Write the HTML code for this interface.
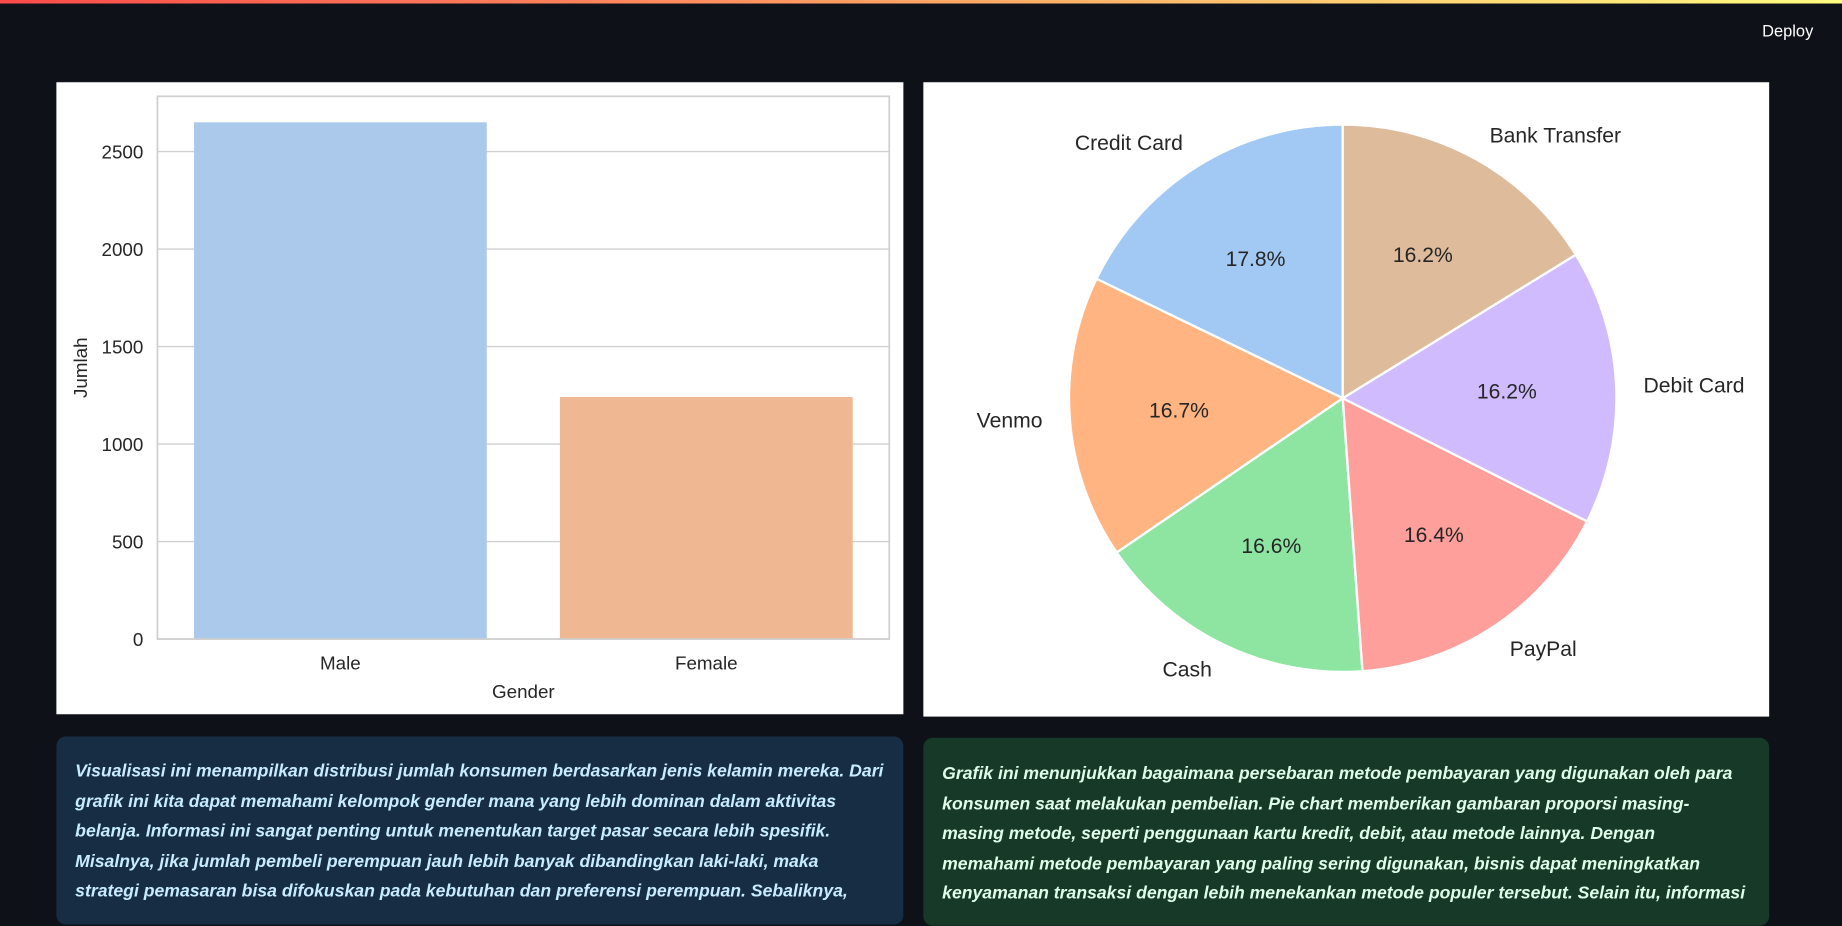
<!DOCTYPE html>
<html><head><meta charset="utf-8">
<style>
html,body{margin:0;padding:0;background:#0e1117;overflow:hidden;width:1842px;height:912px}
#wrap{position:absolute;left:0;top:0;width:1568px;height:776px;transform:scale(1.17474);transform-origin:0 0;font-family:"Liberation Sans",sans-serif}
.bar{position:absolute;left:0;top:0;width:1568px;height:3px;background:linear-gradient(90deg,#ff4b4b,#fffd80)}
.deploy{position:absolute;left:1500px;top:18px;color:#fff;font-size:14px}
.panel{position:absolute;background:#fff}
.box{position:absolute;border-radius:8px;padding:17px 16px 0 16px;box-sizing:border-box;font-style:italic;font-weight:bold;font-size:15px;line-height:25.5px;white-space:nowrap;letter-spacing:0;overflow:hidden}
</style></head><body>
<div id="wrap">
<div class="bar"></div>
<div class="deploy">Deploy</div>
<div class="panel" style="left:48px;top:70px;width:721px;height:538px">
<svg id="barsvg" width="721" height="538"></svg>
</div>
<div class="panel" style="left:786px;top:70px;width:720px;height:540px">
<svg id="piesvg" width="720" height="540"></svg>
</div>
<div class="box" style="left:48px;top:627px;width:721px;height:160px;background:#172d43;color:#c7ebff">Visualisasi ini menampilkan distribusi jumlah konsumen berdasarkan jenis kelamin mereka. Dari<br>grafik ini kita dapat memahami kelompok gender mana yang lebih dominan dalam aktivitas<br>belanja. Informasi ini sangat penting untuk menentukan target pasar secara lebih spesifik.<br>Misalnya, jika jumlah pembeli perempuan jauh lebih banyak dibandingkan laki-laki, maka<br>strategi pemasaran bisa difokuskan pada kebutuhan dan preferensi perempuan. Sebaliknya,</div>
<div class="box" style="left:786px;top:628px;width:720px;height:160px;background:#173928;color:#dffde9;padding-top:18px">Grafik ini menunjukkan bagaimana persebaran metode pembayaran yang digunakan oleh para<br>konsumen saat melakukan pembelian. Pie chart memberikan gambaran proporsi masing-<br>masing metode, seperti penggunaan kartu kredit, debit, atau metode lainnya. Dengan<br>memahami metode pembayaran yang paling sering digunakan, bisnis dapat meningkatkan<br>kenyamanan transaksi dengan lebih menekankan metode populer tersebut. Selain itu, informasi</div>
</div>
<script>
const categories=["Male","Female"];
const counts=[2650,1241];
const yTicks=[0,500,1000,1500,2000,2500];
const pieLabels=["Credit Card","Venmo","Cash","PayPal","Debit Card","Bank Transfer"];
const pieValues=[17.8,16.7,16.6,16.4,16.2,16.2];
const NS="http://www.w3.org/2000/svg";
function mk(p,t,a,txt){const e=document.createElementNS(NS,t);for(const k in a)e.setAttribute(k,a[k]);if(txt!=null)e.textContent=txt;p.appendChild(e);return e;}
(function(){
const s=document.getElementById('barsvg');
const L=86,R=709,T=12,B=474;
const y=v=>B-v*(415/2500);
const bw=(R-L)/categories.length;
const x=i=>L+bw*i+bw/2;
for(const t of yTicks){
 const g=mk(s,'line',{x1:L,x2:R,y1:y(t),y2:y(t),stroke:'#d0d0d0','stroke-width':1.2});
 
 const tl=mk(s,'text',{x:L-12,y:y(t)+6,'text-anchor':'end','font-size':16,fill:'#262626'},t);
 
}
const cols=['#abc9eb','#efb792'];
categories.forEach((c,i)=>{
 const r=mk(s,'rect',{x:x(i)-bw*0.4,y:y(counts[i]),width:bw*0.8,height:B-y(counts[i]),fill:cols[i]});
 
 const l=mk(s,'text',{x:x(i),y:B+26,'text-anchor':'middle','font-size':16,fill:'#262626'},c);
 
});
const fr=mk(s,'rect',{x:L,y:T,width:R-L,height:B-T,fill:'none',stroke:'#d0d0d0','stroke-width':1.5});

const xt=mk(s,'text',{x:(L+R)/2,y:524,'text-anchor':'middle','font-size':16,fill:'#262626'},'Gender');

const yt=mk(s,'text',{x:0,y:0,'text-anchor':'middle','font-size':16,fill:'#262626',transform:'translate(26,243) rotate(-90)'},'Jumlah');

})();
(function(){
const s=document.getElementById('piesvg');
const cx=357,cy=269,r=233;
const cols=['#a1c9f4','#ffb482','#8de5a1','#ff9f9b','#d0bbff','#debb9b'];
const tot=pieValues.reduce((a,b)=>a+b,0);
let a=90;
pieValues.forEach((v,i)=>{
 const sw=v/tot*360,a2=a+sw,rad=d=>d*Math.PI/180;
 const p=(ang,rr)=>[cx+rr*Math.cos(rad(ang)),cy-rr*Math.sin(rad(ang))];
 const [x1,y1]=p(a,r),[x2,y2]=p(a2,r);
 const sl=mk(s,'path',{d:`M${cx},${cy}L${x1},${y1}A${r},${r} 0 ${sw>180?1:0} 0 ${x2},${y2}Z`,fill:cols[i],stroke:'#fff','stroke-width':2});
 
 
 const m=a+sw/2;const [lx,ly]=p(m,r*1.1);const [px,py]=p(m,r*0.6);
 const c=Math.cos(rad(m));
 const lt=mk(s,'text',{x:lx,y:ly+6,'text-anchor':c>0.01?'start':(c<-0.01?'end':'middle'),'font-size':18,fill:'#262626'},pieLabels[i]);
 
 const pt=mk(s,'text',{x:px,y:py+6,'text-anchor':'middle','font-size':18,fill:'#262626'},v.toFixed(1)+'%');
 
 a=a2;
});
})();
</script>
</body></html>
